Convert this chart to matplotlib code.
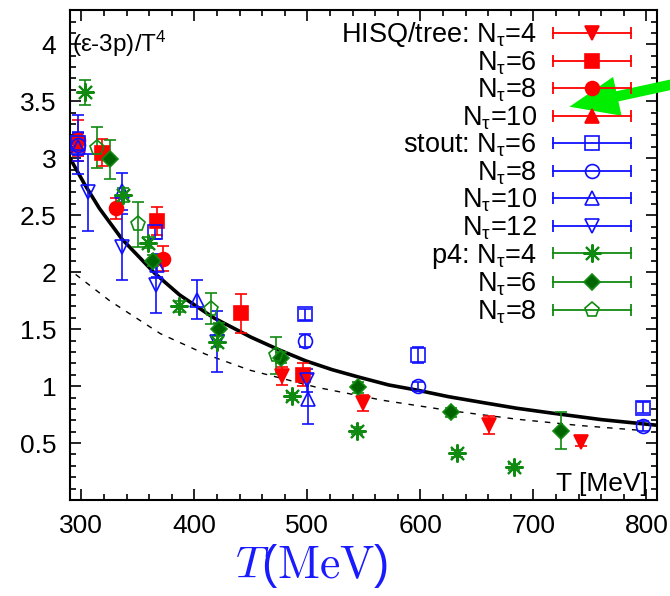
import matplotlib
matplotlib.use("Agg")
import matplotlib.pyplot as plt
from matplotlib.lines import Line2D
from matplotlib.legend_handler import HandlerBase
from matplotlib.ticker import MultipleLocator

plt.rcParams["font.family"] = ["Liberation Sans", "DejaVu Sans"]
plt.rcParams["mathtext.fontset"] = "custom"
plt.rcParams["mathtext.rm"] = "Liberation Sans"
plt.rcParams["mathtext.it"] = "Liberation Sans:italic"
plt.rcParams["mathtext.default"] = "regular"

# HISQ/tree
hisq4_T = [478, 549, 661, 742]
hisq4_v = [1.09, 0.855, 0.66, 0.51]
hisq4_e = [0.08, 0.07, 0.08, 0.04]
hisq6_T = [318, 367, 441, 496]
hisq6_v = [3.05, 2.45, 1.64, 1.10]
hisq6_e = [0.12, 0.12, 0.17, 0.10]
hisq8_T = [297, 331, 372]
hisq8_v = [3.16, 2.56, 2.12]
hisq8_e = [0.18, 0.09, 0.11]
hisq10_T = [297]
hisq10_v = [3.12]
hisq10_e = [0.10]

# stout
stout6_T = [297, 365, 498, 598, 797]
stout6_v = [3.13, 2.35, 1.63, 1.27, 0.81]
stout6_e = [0.10, 0.06, 0.05, 0.07, 0.05]
stout8_T = [297, 498, 598, 797]
stout8_v = [3.12, 1.40, 1.00, 0.65]
stout8_e = [0.26, 0.06, 0.04, 0.04]
stout10_T = [297, 336, 367, 402, 501]
stout10_v = [3.10, 2.71, 2.06, 1.76, 0.89]
stout10_e = [0.12, 0.16, 0.10, 0.17, 0.22]
stout12_T = [306, 336, 366, 420, 500]
stout12_v = [2.70, 2.22, 1.89, 1.39, 1.05]
stout12_e = [0.34, 0.29, 0.25, 0.27, 0.10]

# p4
p4n4_T = [303, 337, 359, 386, 420, 486, 544, 632, 683]
p4n4_v = [3.58, 2.68, 2.26, 1.70, 1.39, 0.91, 0.61, 0.41, 0.29]
p4n4_e = [0.11, 0.06, 0.05, 0.05, 0.05, 0.03, 0.03, 0.03, 0.03]
p4n6_T = [325, 363, 422, 477, 545, 627, 724]
p4n6_v = [2.99, 2.10, 1.50, 1.25, 0.99, 0.77, 0.61]
p4n6_e = [0.17, 0.05, 0.05, 0.05, 0.05, 0.04, 0.16]
p4n8_T = [314, 350, 415, 472]
p4n8_v = [3.09, 2.42, 1.68, 1.27]
p4n8_e = [0.18, 0.20, 0.135, 0.16]

# curves
solid_T = [290, 303, 316, 336, 365, 387, 417, 450, 475, 499, 522, 547, 572,
           597, 625, 655, 685, 715, 760, 809]
solid_v = [3.00, 2.77, 2.56, 2.29, 1.99, 1.80, 1.60, 1.43, 1.318, 1.22, 1.144,
           1.075, 1.01, 0.965, 0.907, 0.856, 0.806, 0.765, 0.706, 0.657]
dash_T = [295, 325, 370, 410, 449, 508, 567, 626, 685, 740, 797]
dash_v = [1.98, 1.75, 1.46, 1.28, 1.14, 0.99, 0.875, 0.785, 0.71, 0.655, 0.61]

RED = "#ff0000"
BLUE = "#1010ff"
GREEN = "#108a10"
DGREEN = "#006400"

series = [
    (hisq4_T, hisq4_v, hisq4_e, RED, "v", RED, 10.5, r"HISQ/tree: N$_\tau$=4"),
    (hisq6_T, hisq6_v, hisq6_e, RED, "s", RED, 10, r"N$_\tau$=6"),
    (hisq8_T, hisq8_v, hisq8_e, RED, "o", RED, 10, r"N$_\tau$=8"),
    (hisq10_T, hisq10_v, hisq10_e, RED, "^", RED, 10.5, r"N$_\tau$=10"),
    (stout6_T, stout6_v, stout6_e, BLUE, "s", "none", 10, r"stout: N$_\tau$=6"),
    (stout8_T, stout8_v, stout8_e, BLUE, "o", "none", 10, r"N$_\tau$=8"),
    (stout10_T, stout10_v, stout10_e, BLUE, "^", "none", 10.5, r"N$_\tau$=10"),
    (stout12_T, stout12_v, stout12_e, BLUE, "v", "none", 10.5, r"N$_\tau$=12"),
    (p4n4_T, p4n4_v, p4n4_e, GREEN, (8, 2, 0), "none", 13, r"p4: N$_\tau$=4"),
    (p4n6_T, p4n6_v, p4n6_e, GREEN, "D", DGREEN, 8.5, r"N$_\tau$=6"),
    (p4n8_T, p4n8_v, p4n8_e, GREEN, "p", "none", 11, r"N$_\tau$=8"),
]


class BarHandler(HandlerBase):
    # gnuplot style key: horizontal bar with end ticks and the point in the middle
    def create_artists(self, legend, orig, xdescent, ydescent, width, height,
                       fontsize, trans):
        y = height / 2 - ydescent
        x0, x1 = -xdescent, width - xdescent
        bar = Line2D([x0, x1], [y, y], color=orig.get_color(), lw=1.3,
                     marker="|", markersize=8, markeredgewidth=1.3)
        mk = Line2D([(x0 + x1) / 2], [y], ls="none", marker=orig.get_marker(),
                    markersize=orig.get_markersize(),
                    markerfacecolor=orig.get_markerfacecolor(),
                    markeredgecolor=orig.get_markeredgecolor(),
                    markeredgewidth=orig.get_markeredgewidth())
        bar.set_transform(trans)
        mk.set_transform(trans)
        return [bar, mk]


fig = plt.figure(figsize=(6.7, 5.96), dpi=100)
ax = fig.add_axes([0.1045, 0.161, 0.8755, 0.822])

ax.plot(solid_T, solid_v, color="black", lw=2.6, zorder=1)
ax.plot(dash_T, dash_v, color="black", lw=1.0, ls=(0, (4, 5)), zorder=1)

handles = []
labels = []
for T, v, e, col, mk, fc, ms, lab in series:
    ax.errorbar(T, v, yerr=e, fmt="none", ecolor=col, elinewidth=1.2,
                capsize=4, capthick=1.2, zorder=2)
    ln, = ax.plot(T, v, ls="none", marker=mk, color=col, markersize=ms,
                  markerfacecolor=fc, markeredgecolor=col,
                  markeredgewidth=1.5 if mk == (8, 2, 0) else 1.2, zorder=3)
    handles.append(ln)
    labels.append(lab)

ax.set_xlim(290, 809)
ax.set_ylim(0, 4.3)
ax.set_xticks([300, 400, 500, 600, 700, 800])
ax.set_yticks([0.5, 1, 1.5, 2, 2.5, 3, 3.5, 4])
ax.set_yticklabels(["0.5", "1", "1.5", "2", "2.5", "3", "3.5", "4"])
ax.xaxis.set_minor_locator(MultipleLocator(20))
ax.yaxis.set_minor_locator(MultipleLocator(0.1))
ax.tick_params(which="both", direction="in", top=True, right=True,
               labelsize=19, width=1.2)
ax.tick_params(which="major", length=8, pad=10)
ax.tick_params(which="minor", length=4)
for s in ax.spines.values():
    s.set_linewidth(1.5)

ax.text(0.004, 0.962, r"(ε-3p)/T$^4$", transform=ax.transAxes, fontsize=17.5,
        ha="left", va="top")
ax.text(0.985, 0.008, "T [MeV]", transform=ax.transAxes, fontsize=19,
        ha="right", va="bottom")

ax.set_xlabel(r"$\mathit{T}(\mathrm{MeV})$", fontsize=33, color="#1a1aff",
              math_fontfamily="cm")
ax.xaxis.set_label_coords(0.412, -0.085)

ax.legend(handles, labels, handler_map={Line2D: BarHandler()},
          loc="upper right", bbox_to_anchor=(0.957, 0.979), frameon=False,
          markerfirst=False, fontsize=19.5, handlelength=2.9,
          handletextpad=0.6, labelspacing=0.0, borderpad=0,
          borderaxespad=0)

ax.annotate("", xy=(0.846, 0.820), xycoords="figure fraction",
            xytext=(1.01, 0.860), textcoords="figure fraction",
            arrowprops=dict(arrowstyle="simple,head_length=1.6,head_width=1.3,tail_width=0.34",
                            mutation_scale=22, color="#00ee00", lw=0))

fig.savefig("out.png", dpi=100)
